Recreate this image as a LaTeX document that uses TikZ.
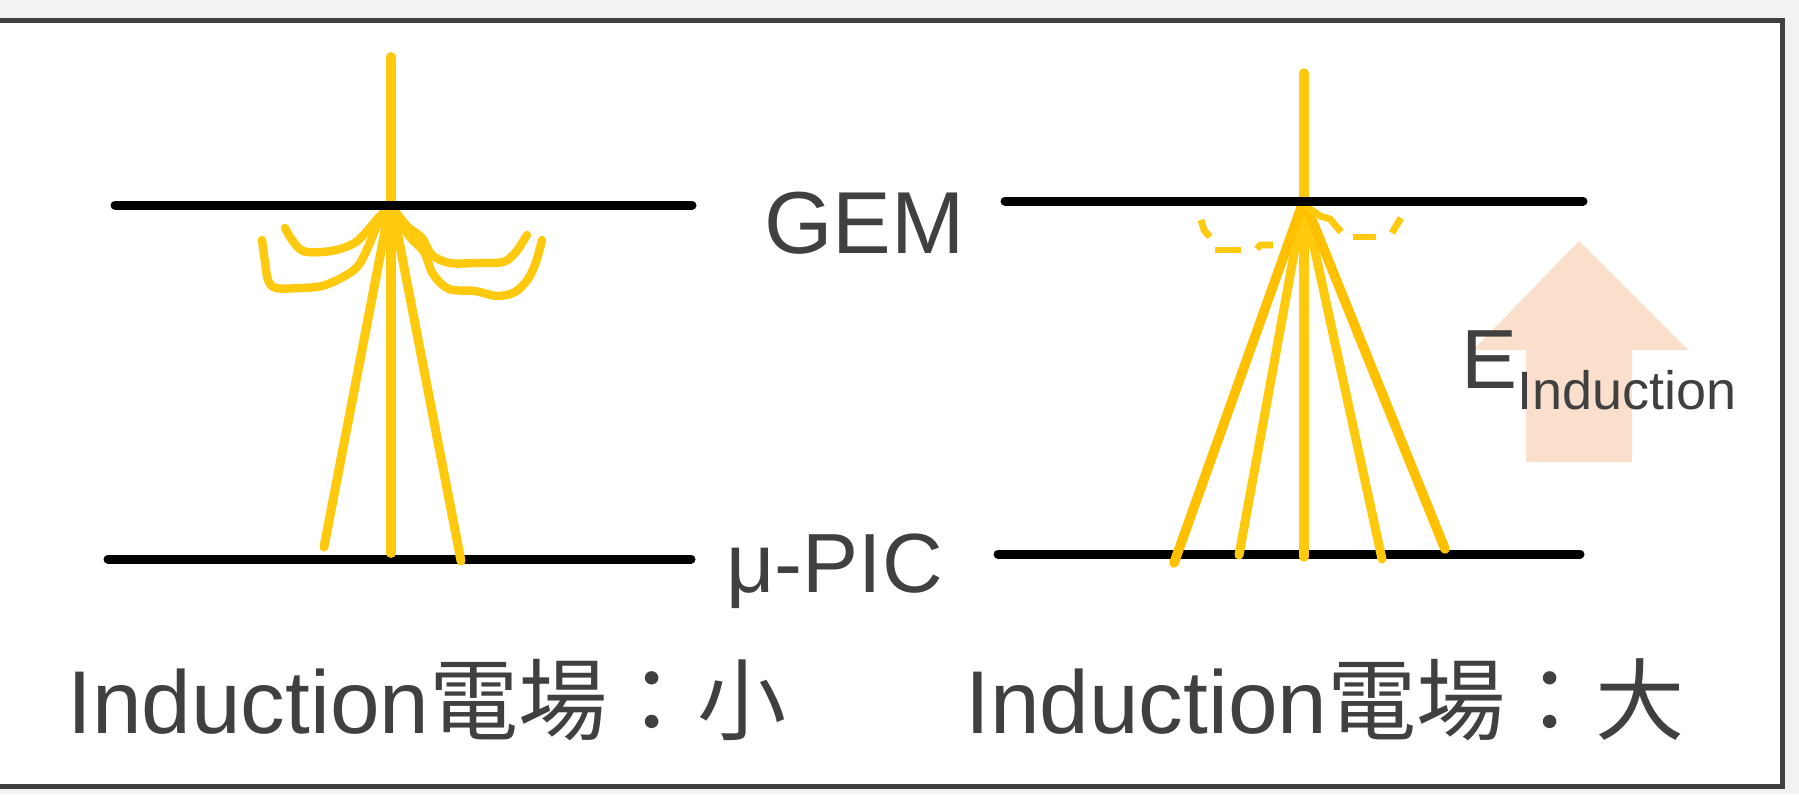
\documentclass[tikz,border=0pt]{standalone}
\usepackage{fontspec}
\setmainfont{Liberation Sans}
\newfontfamily\cjk{Noto Sans CJK JP}
\definecolor{inkgray}{HTML}{404040}
\definecolor{pagegray}{HTML}{F2F2F2}
\definecolor{ray}{HTML}{FFC90E}
\definecolor{raydeep}{HTML}{FFC000}
\definecolor{fieldarrow}{HTML}{FAE0CC}

\begin{document}
\begin{tikzpicture}[x=0.5pt,y=-0.5pt,
  plate/.style={line width=4.5pt,line cap=round,black},
  track/.style={line width=4.5pt,line cap=round,line join=round,ray},
  widetrack/.style={line width=4.8pt,line cap=round,raydeep},
  curl/.style={track,line width=4.2pt},
  spark/.style={line width=3.4pt,line cap=butt,line join=round,ray},
  word/.style={inner sep=0pt,anchor=base west,text=inkgray}]
\useasboundingbox (0,0) rectangle (1799,794);
\fill[pagegray] (0,0) rectangle (1799,794);
\draw[inkgray,line width=2.5pt,fill=white] (-10,20.5) rectangle (1782.5,786.5);

% field arrow behind the label
\fill[fieldarrow] (1579,241) -- (1688,350) -- (1632,350) -- (1632,462)
  -- (1526,462) -- (1526,350) -- (1473,350) -- cycle;

% bottom plates
\draw[plate] (108,559) -- (691,559);
\draw[plate] (998,554) -- (1580,554);

% left: weak field, electrons spread out
\draw[track,line width=5pt] (391,57) -- (391,553);
\draw[track] (389,210) -- (324,547);
\draw[track] (393,210) -- (461,561);
\draw[curl] plot[smooth,tension=0.55] coordinates {(262,240) (265,262)
  (268,280) (276,288) (300,288) (322,286) (343,277) (358,266) (368,247)
  (378,224) (388,210)};
\draw[curl] plot[smooth,tension=0.55] coordinates {(285,228) (292,240)
  (303,251) (322,252) (340,249) (356,242) (368,230) (380,216) (389,209)};
\draw[curl] plot[smooth,tension=0.55] coordinates {(394,210) (408,227)
  (422,238) (432,255) (450,263) (476,263) (503,262) (515,253) (522,243)
  (527,235)};
\draw[curl] plot[smooth,tension=0.55] coordinates {(393,212) (410,237)
  (424,252) (433,274) (449,289) (475,291) (497,296) (515,292) (528,279)
  (536,262) (542,240)};

% right: strong field, electrons go straight down
\draw[track,line width=4.8pt] (1304,73) -- (1304,557);
\draw[track] (1302,210) -- (1239,555);
\draw[track] (1306,210) -- (1382,559);
\draw[widetrack] (1302,205) -- (1174,563);
\draw[widetrack] (1306,205) -- (1445,549);
\draw[spark] (1201,220) -- (1204,230) -- (1210,237);
\draw[spark] (1215,250) -- (1241,250);
\draw[spark] (1257,249) -- (1260,245) -- (1273,245);
\draw[spark] (1306,206) -- (1320,216) -- (1330,219) -- (1341,232);
\draw[spark] (1353,237) -- (1376,237);
\draw[spark] (1392,233) -- (1396,226) -- (1401,218);

% GEM plates on top of the tracks
\draw[plate] (115,205) -- (692,205);
\draw[plate] (1005,201) -- (1583,201);

\node[word,font=\fontsize{44}{48}\selectfont] (gem) at (764,253) {GEM};
\node[word,font=\fontsize{42}{46}\selectfont] (upic) at (726,592) {μ-PIC};
\node[word,font=\fontsize{42}{46}\selectfont] (efield) at (1461,388)
  {E\raisebox{-10.5pt}{\fontsize{27}{30}\selectfont Induction}};
\node[word,font=\fontsize{44.6}{50}\selectfont] (weak) at (67,733)
  {Induction{\cjk 電場：小}};
\node[word,font=\fontsize{44.6}{50}\selectfont] (strong) at (965,733)
  {Induction{\cjk 電場：大}};
\end{tikzpicture}
\end{document}
